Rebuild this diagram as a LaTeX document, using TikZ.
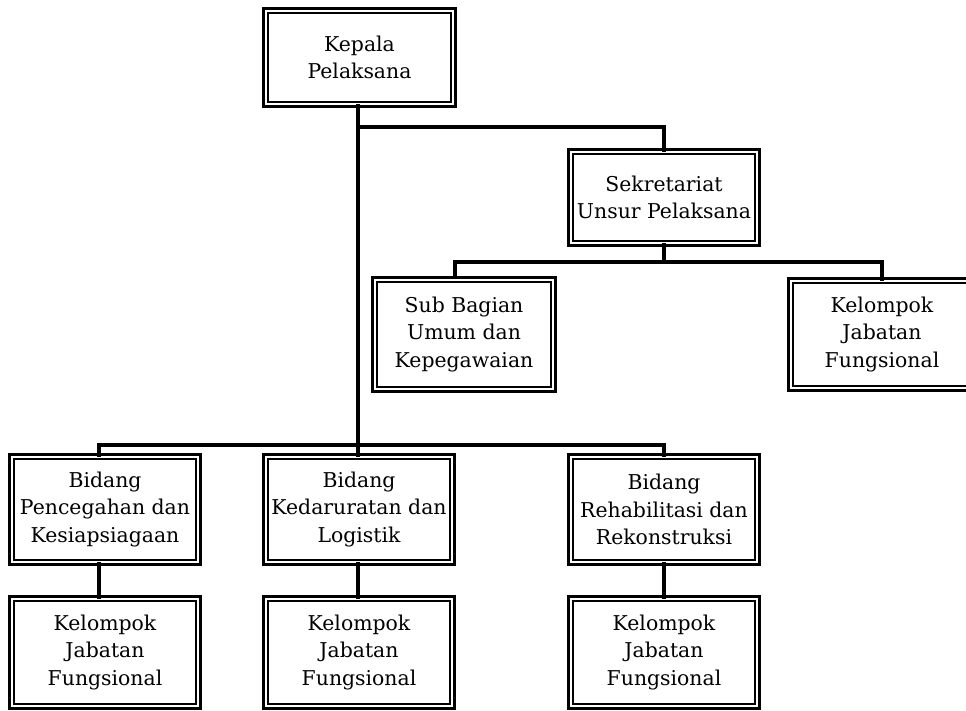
\documentclass[tikz,border=0pt]{standalone}
\usepackage{fontspec}
\setmainfont{DejaVu Serif}
\newcommand{\boxfont}{\fontsize{20.4}{27.5}\selectfont}
\tikzset{
  orgbox/.style={draw, line width=3pt, inner sep=0pt, outer sep=0pt,
    align=center, font=\boxfont,
    path picture={\draw[line width=1.2pt]
      ([shift={(4.5pt,4.5pt)}]path picture bounding box.south west) rectangle
      ([shift={(-4.5pt,-4.5pt)}]path picture bounding box.north east);}},
  conn/.style={line width=4.5pt, line join=miter, line cap=rect}
}
\begin{document}
\begin{tikzpicture}[x=1pt,y=-1pt]
\clip (0,0) rectangle (966,711);
\fill[white] (0,0) rectangle (966,711);
% boxes
\node[orgbox, minimum width=192pt, minimum height=98pt] (kep) at (359.5,57.5) {Kepala\\Pelaksana};
\node[orgbox, minimum width=191pt, minimum height=96pt] (sek) at (664,197.5) {Sekretariat\\Unsur Pelaksana};
\node[orgbox, minimum width=183pt, minimum height=114pt] (sub) at (464,334.5) {Sub Bagian\\Umum dan\\Kepegawaian};
\node[orgbox, minimum width=187pt, minimum height=112pt] (kelr) at (882,334.5) {Kelompok\\Jabatan\\Fungsional};
\node[orgbox, minimum width=191pt, minimum height=110pt] (bid1) at (105,509.5) {Bidang\\Pencegahan dan\\Kesiapsiagaan};
\node[orgbox, minimum width=191pt, minimum height=110pt] (bid2) at (359,509.5) {Bidang\\Kedaruratan dan\\Logistik};
\node[orgbox, minimum width=191pt, minimum height=110pt] (bid3) at (664,509.5) {Bidang\\Rehabilitasi dan\\Rekonstruksi};
\node[orgbox, minimum width=191pt, minimum height=112pt] (kel1) at (105,652.5) {Kelompok\\Jabatan\\Fungsional};
\node[orgbox, minimum width=191pt, minimum height=112pt] (kel2) at (359,652.5) {Kelompok\\Jabatan\\Fungsional};
\node[orgbox, minimum width=191pt, minimum height=112pt] (kel3) at (664,652.5) {Kelompok\\Jabatan\\Fungsional};
% junction coordinates
\coordinate (trunk) at (358,108);
\coordinate (htop) at (0,127);
\coordinate (hsek) at (0,262);
\coordinate (hbid) at (0,445);
\coordinate (subdrop) at (455,276);
\coordinate (d1) at (99,0);
\coordinate (d2) at (358,0);
\coordinate (d3) at (664,0);
% connectors
\draw[conn] (trunk |- kep.south) -- (trunk |- bid2.north);
\draw[conn] (trunk |- htop) -- (sek.north |- htop) -- (sek.north);
\draw[conn] (sek.south) -- (sek.south |- hsek);
\draw[conn] (subdrop) -- (subdrop |- hsek) -- (kelr.north |- hsek) -- (kelr.north);
\draw[conn] (d1 |- bid1.north) -- (d1 |- hbid) -- (d3 |- hbid) -- (d3 |- bid3.north);
\draw[conn] (d1 |- bid1.south) -- (d1 |- kel1.north);
\draw[conn] (d2 |- bid2.south) -- (d2 |- kel2.north);
\draw[conn] (d3 |- bid3.south) -- (d3 |- kel3.north);
\end{tikzpicture}
\end{document}
